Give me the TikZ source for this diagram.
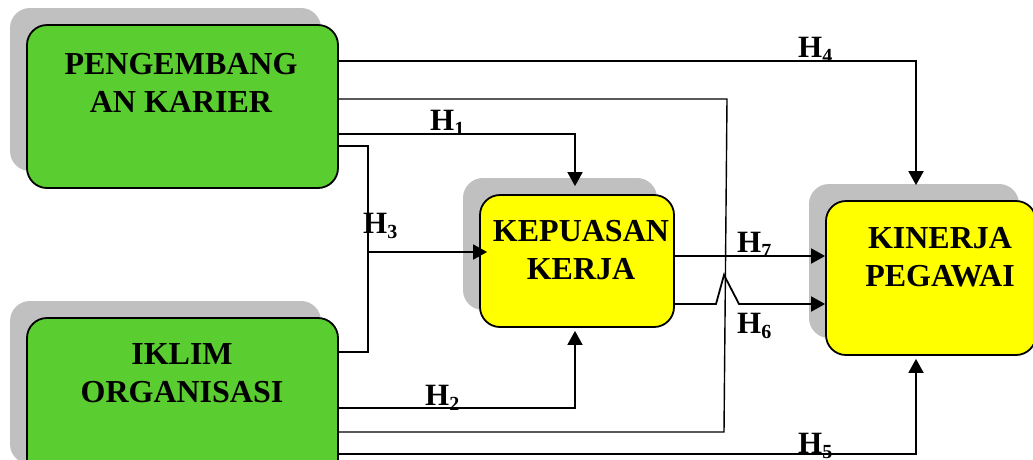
\documentclass[tikz,border=0pt]{standalone}
\usepackage{fontspec}
\setmainfont{Liberation Serif}
\usetikzlibrary{arrows.meta,shadows}
\definecolor{boxgreen}{RGB}{90,205,48}
\definecolor{boxyellow}{RGB}{255,255,0}
\definecolor{shadowgray}{RGB}{192,192,192}
\newcommand\hlab[1]{H\raisebox{-5pt}{\fontsize{20}{20}\selectfont #1}}
\tikzset{
  varbox/.style={draw=black, line width=1.8pt, rounded corners=20pt, inner sep=0pt,
    drop shadow={shadow xshift=-17pt, shadow yshift=17pt, fill=shadowgray, opacity=1, draw=none}},
  greenbox/.style={varbox, fill=boxgreen},
  yellowbox/.style={varbox, fill=boxyellow},
  boxtext/.style={font=\bfseries\fontsize{32}{38}\selectfont, align=center, inner sep=0pt, anchor=north},
  hlabel/.style={font=\bfseries\fontsize{31}{31}\selectfont, inner sep=0pt, anchor=base west},
  arr/.style={line width=1.8pt, -{Triangle[length=14pt,width=15pt]}},
  link/.style={line width=1.8pt},
  thinlink/.style={line width=1.4pt}
}
\begin{document}
\begin{tikzpicture}[x=1pt,y=-1pt]
\clip (0,0) rectangle (1033,459);
\fill[white] (0,0) rectangle (1033,459);
% boxes
\node[greenbox, minimum width=311pt, minimum height=163pt] (pk) at (182.5,106.5) {};
\node[greenbox, minimum width=311pt, minimum height=163pt] (io) at (182.5,399.5) {};
\node[yellowbox, minimum width=194pt, minimum height=132pt] (kk) at (577,261) {};
\node[yellowbox, minimum width=210pt, minimum height=154pt] (kp) at (931,278) {};
% box texts
\node[boxtext] (pkt) at (181,52.8) {PENGEMBANG\\AN KARIER};
\node[boxtext] (iot) at (182,343.8) {IKLIM\\ORGANISASI};
\node[boxtext] (kkt) at (581,219.8) {KEPUASAN\\KERJA};
\node[boxtext] (kpt) at (940,226.8) {KINERJA\\PEGAWAI};
% coordinates
\coordinate (c4) at (916,61);
\coordinate (ct) at (727,99);
\coordinate (cb) at (724,432);
\coordinate (c1) at (575,134);
\coordinate (c3a) at (368,146);
\coordinate (c3b) at (368,352);
\coordinate (c3m) at (368,252);
\coordinate (c2) at (575,408);
\coordinate (c5) at (916,454);
\coordinate (c7) at (760,256);
\coordinate (j1) at (716,304);
\coordinate (j2) at (724,275);
\coordinate (j3) at (739,304);
% connectors
\draw[arr, shorten >=15pt] (pk.east |- c4) -- (c4) -- (kp.north -| c4);
\draw[thinlink] (pk.east |- ct) -- (ct) -- (cb) -- (io.east |- cb);
\draw[arr, shorten >=8pt] (pk.east |- c1) -- (c1) -- (kk.north -| c1);
\draw[link] (pk.east |- c3a) -- (c3a) -- (c3b) -- (io.east |- c3b);
\draw[arr, shorten >=-8pt] (c3m) -- (kk.west |- c3m);
\draw[arr, shorten >=3pt] (io.east |- c2) -- (c2) -- (kk.south -| c2);
\draw[arr, shorten >=3pt] (io.east |- c5) -- (c5) -- (kp.south -| c5);
\draw[arr] (kk.east |- c7) -- (kp.west |- c7);
\draw[arr] (kk.east |- j1) -- (j1) -- (j2) -- (j3) -- (kp.west |- j3);
% labels
\node[hlabel] (h4) at (798,57) {\hlab{4}};
\node[hlabel] (h1) at (430,130) {\hlab{1}};
\node[hlabel] (h3) at (363,233) {\hlab{3}};
\node[hlabel] (h2) at (425,405) {\hlab{2}};
\node[hlabel] (h5) at (798,453) {\hlab{5}};
\node[hlabel] (h7) at (737,252) {\hlab{7}};
\node[hlabel] (h6) at (737,333) {\hlab{6}};
\end{tikzpicture}
\end{document}
